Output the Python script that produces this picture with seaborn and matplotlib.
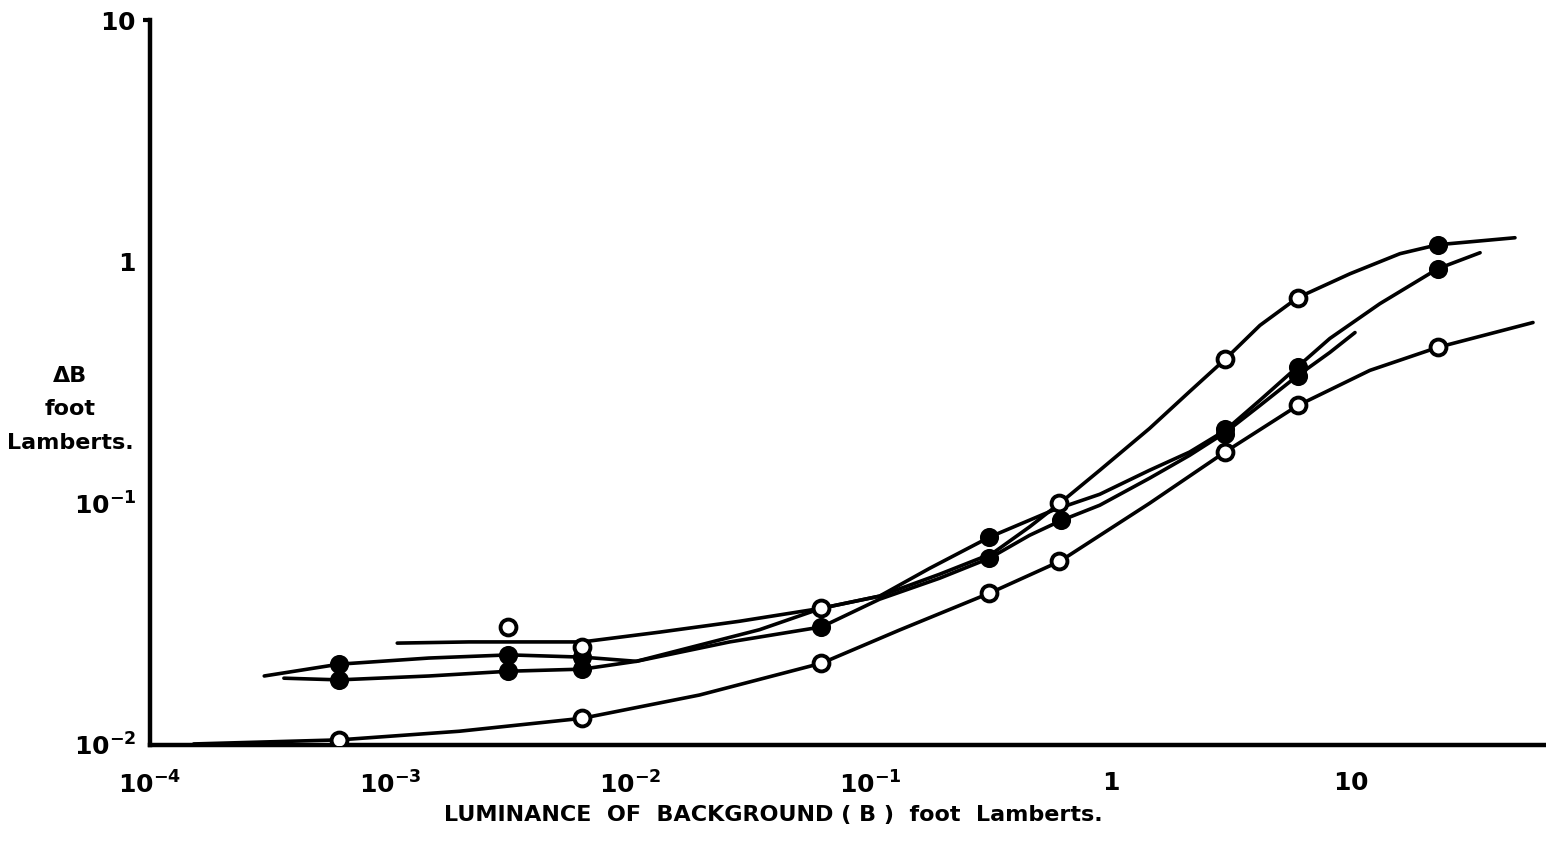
import matplotlib
matplotlib.use("Agg")
import matplotlib.pyplot as plt
import pandas as pd
import seaborn as sns

# Increment threshold ΔB against background luminance B (both in foot-Lamberts).
# Each hand-fitted curve is traced as a list of (B, ΔB) points.
curve_steep_b = [1.07e-3, 2.13e-3, 6.31e-3, 0.0132, 0.0284, 0.0625, 0.109, 0.194, 0.322,
                 0.460, 0.613, 0.900, 1.45, 2.13, 2.99, 4.18, 6.01, 9.91, 16.0, 23.0, 48.2]
curve_steep_db = [0.0264, 0.0267, 0.0267, 0.0293, 0.0325, 0.0368, 0.0413, 0.0509, 0.0621,
                  0.0800, 0.100, 0.137, 0.204, 0.290, 0.394, 0.545, 0.710, 0.891, 1.079, 1.175, 1.256]

curve_upper_b = [2.99e-4, 6.13e-4, 1.45e-3, 3.13e-3, 6.31e-3, 0.0106, 0.0194, 0.0345, 0.0625,
                 0.109, 0.176, 0.313, 0.573, 0.900, 1.45, 2.13, 2.99, 4.18, 6.01, 8.17, 13.2, 23.0, 34.5]
curve_upper_db = [0.0193, 0.0216, 0.0229, 0.0236, 0.0231, 0.0222, 0.0259, 0.0300, 0.0368,
                  0.0413, 0.0538, 0.0725, 0.0935, 0.109, 0.137, 0.163, 0.200, 0.267, 0.368, 0.481, 0.670, 0.935, 1.089]

curve_middle_b = [3.61e-4, 6.13e-4, 1.45e-3, 3.13e-3, 6.31e-3, 0.0106, 0.0259, 0.0625, 0.109,
                  0.194, 0.313, 0.460, 0.625, 0.900, 1.45, 2.13, 2.99, 4.18, 6.01, 8.17, 10.4]
curve_middle_db = [0.0189, 0.0186, 0.0193, 0.0202, 0.0206, 0.0222, 0.0267, 0.0308, 0.0401,
                   0.0490, 0.0593, 0.0738, 0.0851, 0.0982, 0.127, 0.158, 0.196, 0.254, 0.338, 0.421, 0.509]

curve_lower_b = [1.52e-4, 6.13e-4, 1.94e-3, 6.31e-3, 0.0194, 0.0625, 0.132, 0.313, 0.613,
                 1.45, 2.99, 6.01, 12.0, 23.0, 57.3]
curve_lower_db = [0.0101, 0.0105, 0.0114, 0.0129, 0.0161, 0.0218, 0.0299, 0.0425, 0.0575,
                  0.100, 0.163, 0.254, 0.355, 0.442, 0.560]

# Measured thresholds: solid and open observation points
filled_b = [6.1e-4, 6.1e-4, 3.1e-3, 3.1e-3, 6.3e-3, 6.3e-3, 0.062, 0.31, 0.31, 0.62,
            3.0, 3.0, 6.0, 6.0, 23.0, 23.0]
filled_db = [0.0216, 0.0186, 0.0236, 0.0202, 0.0231, 0.0206, 0.0308, 0.0725, 0.0593, 0.0851,
             0.204, 0.193, 0.368, 0.338, 1.175, 0.935]

open_b = [6.1e-4, 3.1e-3, 6.3e-3, 6.3e-3, 0.062, 0.062, 0.31, 0.61, 0.61,
          3.0, 3.0, 6.0, 6.0, 23.0]
open_db = [0.0105, 0.0308, 0.0254, 0.0129, 0.0368, 0.0218, 0.0425, 0.100, 0.0575,
           0.394, 0.163, 0.710, 0.254, 0.442]

x_ticks = [1e-4, 1e-3, 1e-2, 1e-1, 1, 10]
x_tick_labels = [r"$\mathbf{10^{-4}}$", r"$\mathbf{10^{-3}}$", r"$\mathbf{10^{-2}}$",
                 r"$\mathbf{10^{-1}}$", r"$\mathbf{1}$", r"$\mathbf{10}$"]
y_ticks = [1e-2, 1e-1, 1, 10]
y_tick_labels = [r"$\mathbf{10^{-2}}$", r"$\mathbf{10^{-1}}$", r"$\mathbf{1}$", r"$\mathbf{10}$"]

x_title = "LUMINANCE  OF  BACKGROUND ( B )  foot  Lamberts."
y_title = ["ΔB", "foot", "Lamberts."]

curves = pd.concat([
    pd.DataFrame({"curve": name, "B": b, "dB": db})
    for name, b, db in [
        ("steep", curve_steep_b, curve_steep_db),
        ("upper", curve_upper_b, curve_upper_db),
        ("middle", curve_middle_b, curve_middle_db),
        ("lower", curve_lower_b, curve_lower_db),
    ]
], ignore_index=True)
filled_pts = pd.DataFrame({"B": filled_b, "dB": filled_db})
open_pts = pd.DataFrame({"B": open_b, "dB": open_db})

sns.set_theme(style="white")
plt.rcParams["font.family"] = ["DejaVu Sans"]
plt.rcParams["mathtext.fontset"] = "dejavusans"

fig = plt.figure(figsize=(15.46, 8.50), dpi=100)
fig.patch.set_facecolor("white")
ax = fig.add_axes([150 / 1546, 105 / 850, 1396 / 1546, 725 / 850])
ax.set_facecolor("white")

sns.lineplot(data=curves, x="B", y="dB", units="curve", estimator=None, sort=False,
             color="black", linewidth=2.6, ax=ax, zorder=2)
sns.scatterplot(data=filled_pts, x="B", y="dB", s=150, color="black",
                edgecolor="black", linewidth=1.5, ax=ax, zorder=3)
sns.scatterplot(data=open_pts, x="B", y="dB", s=130, facecolor="white",
                edgecolor="black", linewidth=2.8, ax=ax, zorder=3)

ax.set_xscale("log")
ax.set_yscale("log")
ax.set_xlim(1e-4, 64.9)
ax.set_ylim(1e-2, 10)

ax.set_xticks(x_ticks)
ax.set_xticklabels(x_tick_labels)
ax.set_yticks(y_ticks)
ax.set_yticklabels(y_tick_labels)
ax.minorticks_off()
ax.tick_params(axis="x", direction="out", length=5, width=2.5, pad=14,
               labelsize=18, colors="black")
ax.tick_params(axis="y", direction="out", length=5, width=2.5, pad=5,
               labelsize=18, colors="black")
ax.set_xlabel("")
ax.set_ylabel("")

for side in ("top", "right"):
    ax.spines[side].set_visible(False)
for side in ("left", "bottom"):
    ax.spines[side].set_linewidth(3.2)
    ax.spines[side].set_color("black")

# short hook at the top of the vertical axis
ax.plot([-0.005, 0.0], [1.0, 1.0], transform=ax.transAxes, color="black",
        linewidth=3.0, clip_on=False, solid_capstyle="butt")

fig.text(0.5, 1 - 815 / 850, x_title, ha="center", va="center",
         fontsize=16, fontweight="bold", color="black")
for label, ypix in zip(y_title, [376, 409, 443]):
    fig.text(70 / 1546, 1 - ypix / 850, label, ha="center", va="center",
             fontsize=16, fontweight="bold", color="black")

fig.savefig("out.png", dpi=100, facecolor="white")
